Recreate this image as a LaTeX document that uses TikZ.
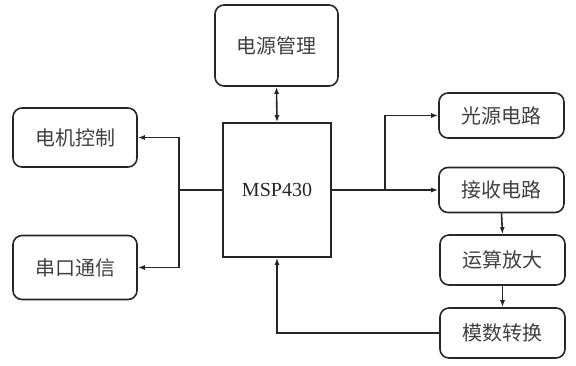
\documentclass[tikz,border=0pt]{standalone}
\usepackage{fontspec}
\setmainfont{Liberation Serif}
\newfontfamily\cjk{Noto Sans CJK SC}
\usetikzlibrary{arrows.meta}
\tikzset{
  blk/.style={draw=black!85, rounded corners=9pt, line width=1.6pt,
    inner sep=0pt, text=black!75, font=\cjk\fontsize{20}{24}\selectfont},
  mcubox/.style={draw=black!85, line width=1.6pt, inner sep=0pt,
    text=black!85, font=\fontsize{20}{24}\selectfont},
  wire/.style={draw=black!85, line width=1.6pt},
  arr/.style={wire, -{Latex[length=7pt,width=5pt]}},
}
\begin{document}
\begin{tikzpicture}[x=1pt, y=-1pt]
    \useasboundingbox (0,0) rectangle (576,365);
    % controller in the middle
    \node[mcubox, minimum width=108pt, minimum height=134pt] (mcu) at (277,190) {MSP430};
    % power supply above
    \node[blk, minimum width=123pt, minimum height=81pt] (pwr) at (276.5,45.5) {电源管理};
    % outputs on the left
    \node[blk, minimum width=124pt, minimum height=59pt] (motor) at (75,137.5) {电机控制};
    \node[blk, minimum width=124pt, minimum height=64pt] (uart) at (75,267.5) {串口通信};
    % measuring chain on the right
    \node[blk, minimum width=125pt, minimum height=45pt] (light) at (501.5,115.5) {光源电路};
    \node[blk, minimum width=125pt, minimum height=45pt] (recv) at (501.5,190) {接收电路};
    \node[blk, minimum width=125pt, minimum height=50pt] (amp) at (502.5,260) {运算放大};
    \node[blk, minimum width=125pt, minimum height=50pt] (adc) at (502.5,333) {模数转换};
    \coordinate (lbus) at (179,190);
    \coordinate (rbus) at (385,190);
    % connectors
    \draw[wire, {Latex[length=7pt,width=5pt]}-{Latex[length=7pt,width=5pt]}] (pwr.south) -- (mcu.north);
    \draw[wire] (mcu.west) -- (lbus);
    \draw[arr] (lbus) |- (motor.east);
    \draw[arr] (lbus) |- (uart.east);
    \draw[arr] (mcu.east) -- (recv.west);
    \draw[arr] (rbus) |- (light.west);
    \draw[arr] (recv.south) -- (amp.north);
    \draw[arr] (amp.south) -- (adc.north);
    \draw[arr] (adc.west) -| (mcu.south);
\end{tikzpicture}
\end{document}
